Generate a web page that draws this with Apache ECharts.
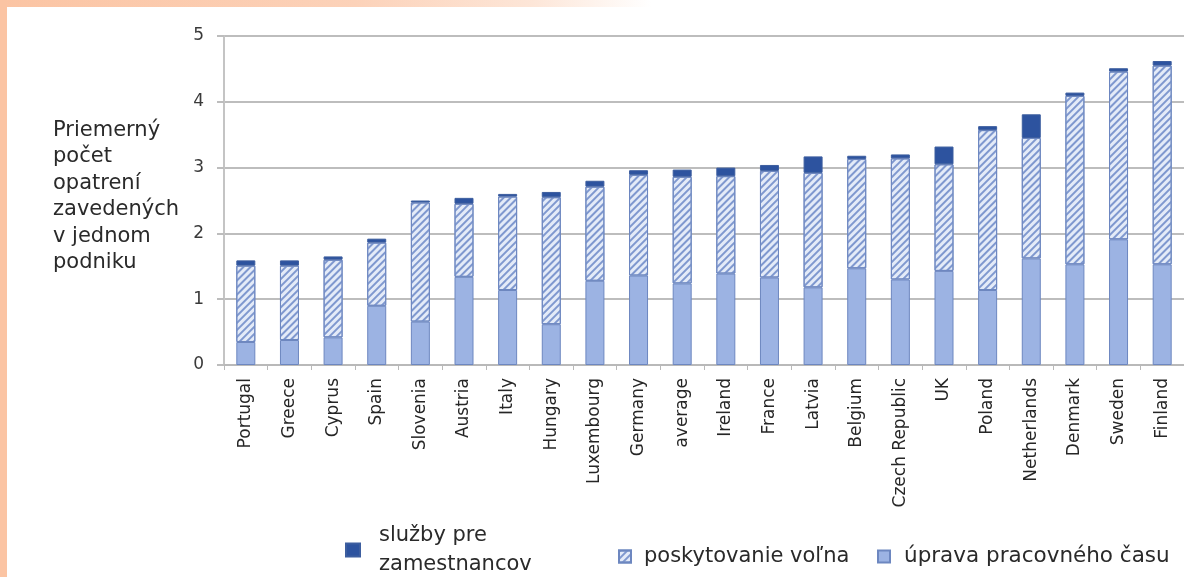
<!DOCTYPE html>
<html>
<head>
<meta charset="utf-8">
<script src="https://cdn.jsdelivr.net/npm/echarts@6/dist/echarts.min.js"></script>
<style>
  html, body { margin: 0; padding: 0; }
  body {
    width: 1184px; height: 577px; overflow: hidden; position: relative;
    background: linear-gradient(to right, #fbc4a3 0%, #fcd2b9 30%, #fde6d8 45%, #ffffff 55%);
  }
  #edge { position: absolute; left: 0; top: 0; width: 7px; height: 577px; background: #fbc4a3; }
  #chart { position: absolute; left: 7px; top: 7px; width: 1177px; height: 570px; background: #ffffff; }
</style>
</head>
<body>
<div id="edge"></div>
<div id="chart"></div>
<script>
// Countries ordered by total number of measures per company
const countries = ['Portugal', 'Greece', 'Cyprus', 'Spain', 'Slovenia', 'Austria', 'Italy', 'Hungary',
  'Luxembourg', 'Germany', 'average', 'Ireland', 'France', 'Latvia', 'Belgium', 'Czech Republic',
  'UK', 'Poland', 'Netherlands', 'Denmark', 'Sweden', 'Finland'];

// úprava pracovného času (working-time arrangements)
const workingTime = [0.35, 0.38, 0.42, 0.90, 0.66, 1.34, 1.14, 0.62, 1.28, 1.36, 1.24, 1.39, 1.33,
  1.18, 1.47, 1.30, 1.43, 1.14, 1.62, 1.53, 1.91, 1.53];

// poskytovanie voľna (leave arrangements)
const leave = [1.16, 1.13, 1.18, 0.96, 1.81, 1.11, 1.42, 1.93, 1.43, 1.53, 1.62, 1.48, 1.62,
  1.74, 1.66, 1.84, 1.62, 2.43, 1.83, 2.56, 2.55, 3.02];

// služby pre zamestnancov (employee services)
const services = [0.08, 0.08, 0.05, 0.06, 0.03, 0.09, 0.04, 0.08, 0.09, 0.07, 0.11, 0.13, 0.09,
  0.25, 0.05, 0.06, 0.27, 0.06, 0.36, 0.05, 0.05, 0.07];

const yTicks = [0, 1, 2, 3, 4, 5];

const seriesNames = ['služby pre zamestnancov', 'poskytovanie voľna', 'úprava pracovného času'];

const chart = echarts.init(document.getElementById('chart'), null, { renderer: 'canvas' });

const labelFont = 'DejaVu Sans';
const hatch = {
  symbol: 'rect',
  symbolSize: 1,
  dashArrayX: [1, 0],
  dashArrayY: [1.6, 2.2],
  rotation: -Math.PI / 4,
  color: '#7f98cf'
};

chart.setOption({
  animation: false,
  aria: { enabled: false },
  grid: { left: 217, top: 29, width: 963, height: 329, containLabel: false },
  xAxis: {
    type: 'category',
    data: countries,
    axisLine: { show: true, lineStyle: { color: '#b9b9b9', width: 2 } },
    axisTick: { show: true, length: 5, lineStyle: { color: '#b9b9b9', width: 1 } },
    axisLabel: {
      rotate: 90, margin: 13, interval: 0,
      fontFamily: labelFont, fontSize: 17, color: '#262626'
    }
  },
  yAxis: {
    type: 'value',
    min: yTicks[0], max: yTicks[yTicks.length - 1], interval: 1,
    axisLine: { show: true, lineStyle: { color: '#c4c4c4', width: 2 } },
    axisTick: { show: true, length: 7, lineStyle: { color: '#bdbdbd', width: 2 } },
    splitLine: { show: true, lineStyle: { color: '#bdbdbd', width: 2 } },
    axisLabel: { margin: 20, fontFamily: labelFont, fontSize: 17, color: '#3a3a3a' }
  },
  legend: [
    {
      data: [seriesNames[0]],
      icon: 'rect',
      left: 333, top: 509, orient: 'horizontal',
      itemWidth: 14, itemHeight: 13,
      formatter: () => 'služby pre\nzamestnancov',
      textStyle: { fontFamily: labelFont, fontSize: 21, color: '#2a2a2a', lineHeight: 29, padding: [0, 0, 0, 14] },
      selectedMode: false
    },
    {
      data: [seriesNames[1]],
      icon: 'rect',
      left: 606, top: 530,
      itemWidth: 12, itemHeight: 12,
      textStyle: { fontFamily: labelFont, fontSize: 21, color: '#2a2a2a', lineHeight: 29, padding: [0, 0, 0, 8] },
      selectedMode: false
    },
    {
      data: [seriesNames[2]],
      icon: 'rect',
      left: 865, top: 530,
      itemWidth: 12, itemHeight: 12,
      textStyle: { fontFamily: labelFont, fontSize: 21.5, color: '#2a2a2a', lineHeight: 29, padding: [0, 0, 0, 9] },
      selectedMode: false
    }
  ],
  graphic: [{
    type: 'text',
    left: 46, top: 110,
    style: {
      text: 'Priemerný\npočet\nopatrení\nzavedených\nv jednom\npodniku',
      fontFamily: labelFont, fontSize: 21, lineHeight: 26.5,
      fill: '#2a2a2a'
    }
  }],
  series: [
    {
      name: seriesNames[2], type: 'bar', stack: 'total', barWidth: 19,
      data: workingTime,
      itemStyle: { color: '#9cb3e3', borderColor: '#6d87c0', borderWidth: 1 }
    },
    {
      name: seriesNames[1], type: 'bar', stack: 'total', barWidth: 19,
      data: leave,
      itemStyle: { color: '#e4ebf8', borderColor: '#6d87c0', borderWidth: 1, decal: hatch }
    },
    {
      name: seriesNames[0], type: 'bar', stack: 'total', barWidth: 19,
      data: services,
      itemStyle: { color: '#2d539f', borderColor: '#3d5e9f', borderWidth: 1 }
    }
  ]
});
</script>
</body>
</html>
